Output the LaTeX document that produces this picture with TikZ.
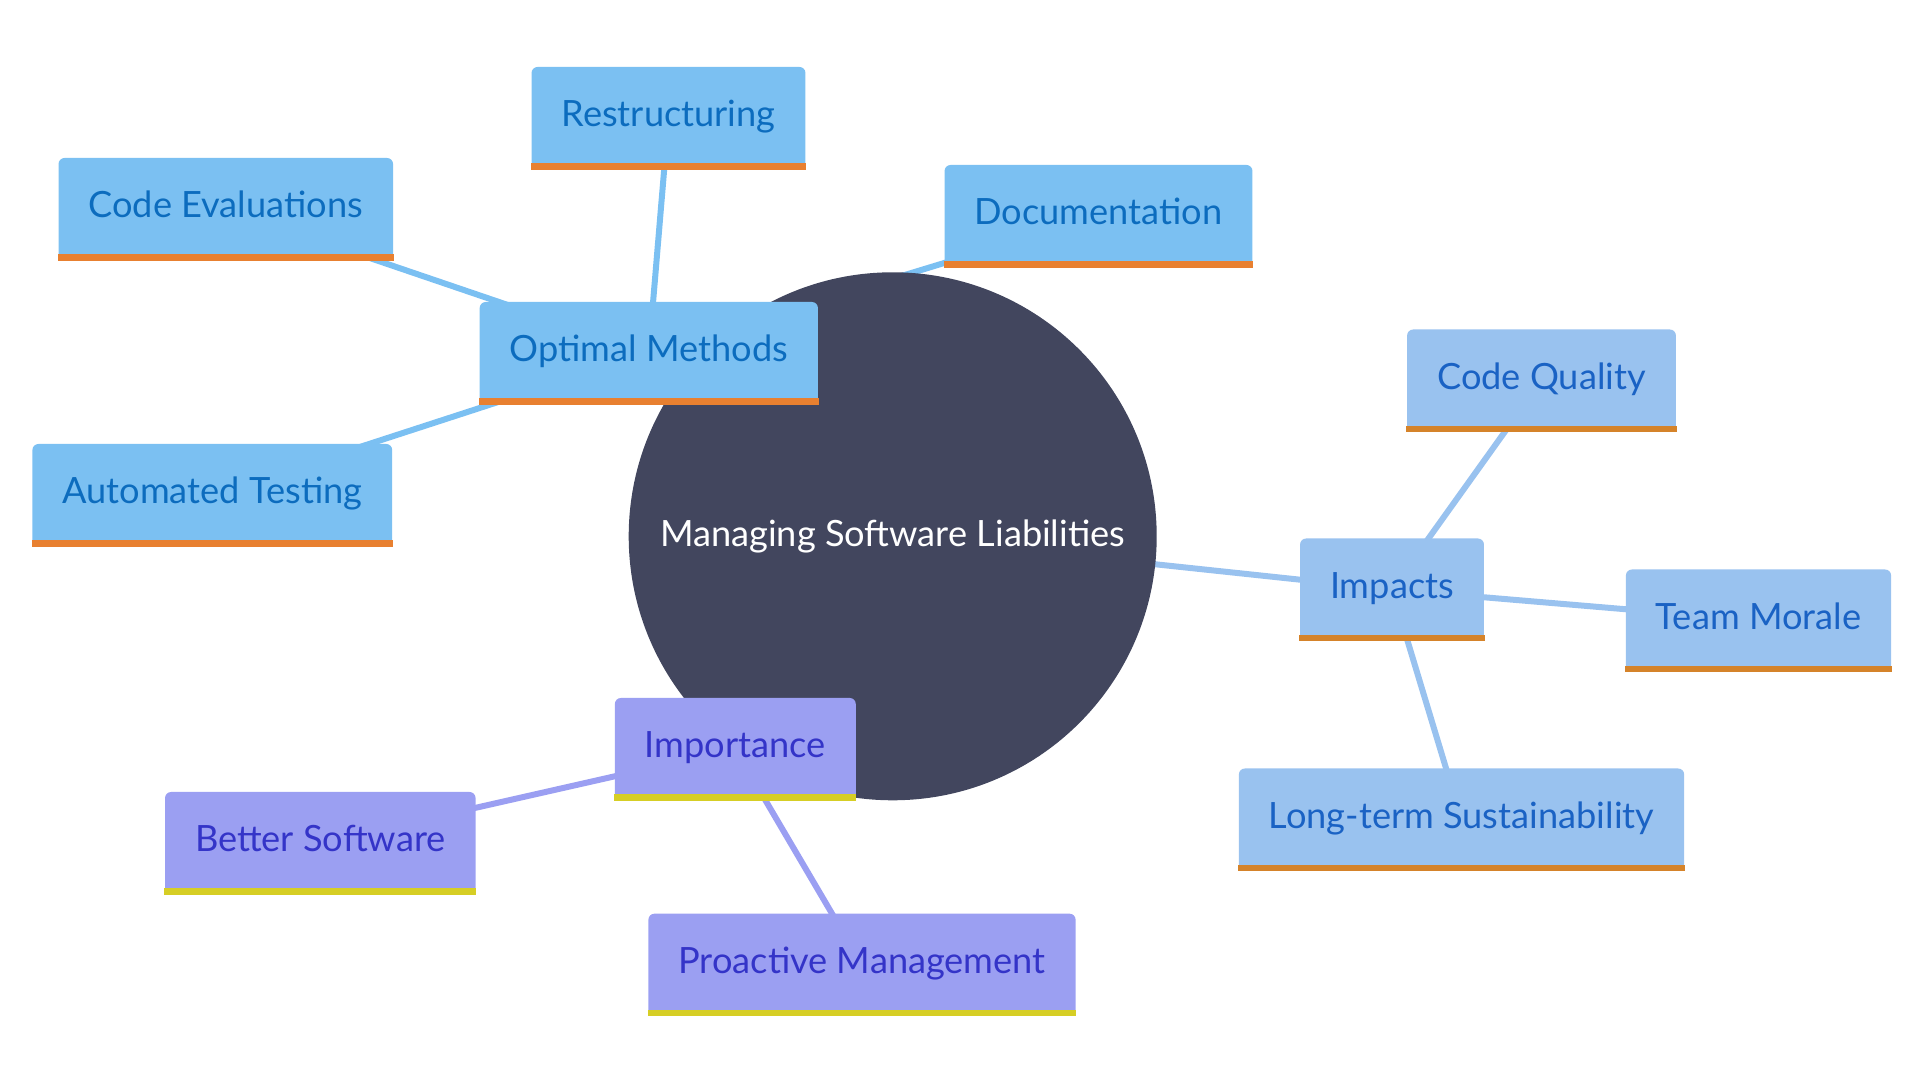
\documentclass[tikz,border=0pt]{standalone}
\usepackage{fontspec}
\setmainfont{Lato}
\usepackage{tikz}
\usetikzlibrary{backgrounds}

\definecolor{rootc}{RGB}{66,70,94}
\definecolor{optfill}{RGB}{123,192,242}
\definecolor{opttext}{RGB}{12,108,190}
\definecolor{optbar}{RGB}{232,128,48}
\definecolor{impfill}{RGB}{153,194,239}
\definecolor{imptext}{RGB}{26,98,196}
\definecolor{impbar}{RGB}{213,131,42}
\definecolor{prifill}{RGB}{155,159,242}
\definecolor{pritext}{RGB}{52,52,200}
\definecolor{pribar}{RGB}{214,206,37}

\begin{document}
\begin{tikzpicture}[
    rootnode/.style={circle, fill=rootc, minimum size=5.28cm, inner sep=0pt,
                     text=white, font=\fontsize{10.3}{12}\selectfont},
    topic/.style={rectangle, rounded corners=0.06cm, fill=#1fill, text=#1text,
                  minimum height=1.02cm, inner xsep=0.3cm,
                  text height=0.27cm, text depth=0.09cm,
                  font=\fontsize{10.3}{12}\selectfont},
    bar/.style={fill=#1bar},
    link/.style={draw=#1fill, line width=0.06cm},
]
\useasboundingbox (0,0) rectangle (19.2,10.8);

% Central idea
\node[rootnode] (root) at (8.927,5.437) {Managing Software Liabilities};

% Optimal methods branch
\node[topic=opt] (methods)  at (6.488,7.27)  {Optimal Methods};
\node[topic=opt] (restruct) at (6.685,9.62)  {Restructuring};
\node[topic=opt] (codeeval) at (2.258,8.71)  {Code Evaluations};
\node[topic=opt] (docs)     at (10.985,8.64) {Documentation};
\node[topic=opt] (autotest) at (2.123,5.85)  {Automated Testing};

% Impacts branch
\node[topic=imp] (impacts)  at (13.92,4.905)  {Impacts};
\node[topic=imp] (quality)  at (15.415,6.995) {Code Quality};
\node[topic=imp] (morale)   at (17.585,4.595) {Team Morale};
\node[topic=imp] (longterm) at (14.615,2.605) {Long-term Sustainability};

% Importance branch
\node[topic=pri] (importance) at (7.353,3.31) {Importance};
\node[topic=pri] (better)     at (3.203,2.37) {Better Software};
\node[topic=pri] (proactive)  at (8.62,1.153) {Proactive Management};

% Bottom bars
\foreach \n in {methods, restruct, codeeval, docs, autotest}
    \fill[bar=opt] (\n.south west) rectangle ([yshift=0.065cm]\n.south east);
\foreach \n in {impacts, quality, morale, longterm}
    \fill[bar=imp] (\n.south west) rectangle ([yshift=0.065cm]\n.south east);
\foreach \n in {importance, better, proactive}
    \fill[bar=pri] (\n.south west) rectangle ([yshift=0.065cm]\n.south east);

% Connectors
\begin{scope}[on background layer]
\draw[link=opt] (root) -- (methods);
\foreach \n in {restruct, codeeval, docs, autotest}
    \draw[link=opt] (methods.center) -- (\n.center);
\draw[link=imp] (root.center) -- (impacts.center);
\foreach \n in {quality, morale, longterm}
    \draw[link=imp] (impacts.center) -- (\n.center);
\draw[link=pri] (root) -- (importance);
\foreach \n in {better, proactive}
    \draw[link=pri] (importance.center) -- (\n.center);
\end{scope}

\end{tikzpicture}
\end{document}
